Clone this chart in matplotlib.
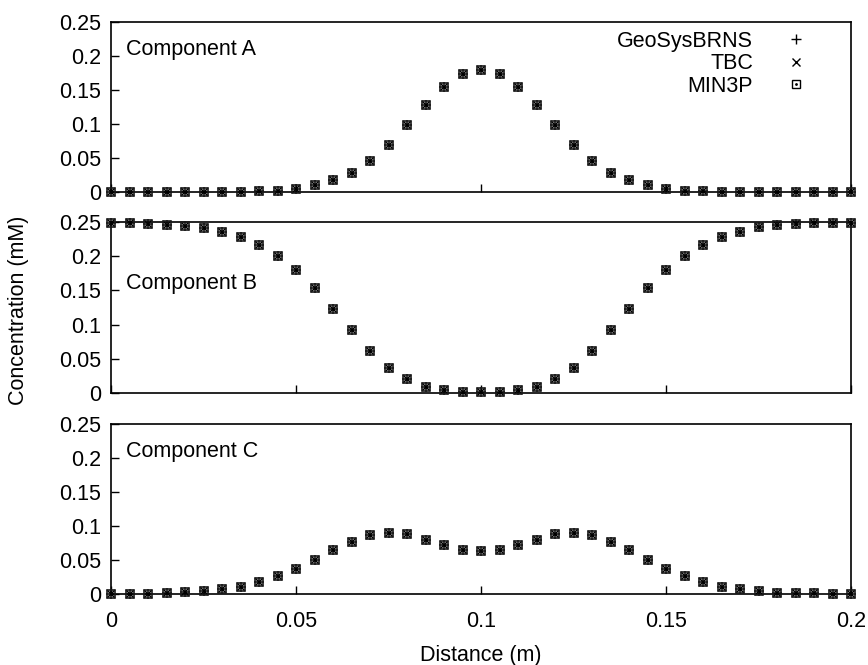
import matplotlib
matplotlib.use('Agg')
import matplotlib.pyplot as plt
from matplotlib.legend_handler import HandlerTuple

plt.rcParams['font.family'] = ['Liberation Sans', 'DejaVu Sans']
plt.rcParams['font.size'] = 15.5

# distance (m), 41 nodes
distancia = [i * 0.005 for i in range(41)]

# componente A
comp_a = [0, 0, 0, 0, 0, 0, 0, 0, 0.001, 0.002,
          0.005, 0.010, 0.017, 0.028, 0.045, 0.069, 0.098, 0.128, 0.155, 0.174,
          0.180,
          0.174, 0.155, 0.128, 0.098, 0.069, 0.045, 0.028, 0.017, 0.010, 0.005,
          0.002, 0.001, 0, 0, 0, 0, 0, 0, 0, 0]

# componente B
comp_b = [0.249, 0.249, 0.247, 0.246, 0.244, 0.241, 0.236, 0.228, 0.217, 0.201,
          0.180, 0.153, 0.123, 0.092, 0.062, 0.037, 0.020, 0.009, 0.004, 0.0015,
          0.001,
          0.0015, 0.004, 0.009, 0.020, 0.037, 0.062, 0.092, 0.123, 0.153, 0.180,
          0.201, 0.217, 0.228, 0.236, 0.242, 0.245, 0.247, 0.248, 0.249, 0.249]

# componente C
comp_c = [0, 0, 0.0005, 0.0015, 0.003, 0.004, 0.007, 0.011, 0.0175, 0.026,
          0.0365, 0.050, 0.064, 0.077, 0.087, 0.090, 0.088, 0.080, 0.072, 0.065,
          0.063,
          0.065, 0.072, 0.080, 0.088, 0.090, 0.087, 0.077, 0.064, 0.050, 0.037,
          0.026, 0.0175, 0.011, 0.007, 0.004, 0.002, 0.0015, 0.001, 0.0005, 0.0005]

componentes = ['Component A', 'Component B', 'Component C']
dados = [comp_a, comp_b, comp_c]
modelos = ['GeoSysBRNS', 'TBC', 'MIN3P']

yticks = [0, 0.05, 0.1, 0.15, 0.2, 0.25]
xticks = [0, 0.05, 0.1, 0.15, 0.2]

fig = plt.figure(figsize=(8.68, 6.65), dpi=100)

# posicoes dos paineis em pixels (topo, base)
paineis = [(22, 192), (222, 393), (424, 594)]
esq, dir_ = 111 / 868, 851 / 868

eixos = []
for (topo, base) in paineis:
    b = 1 - base / 665
    h = (base - topo) / 665
    eixos.append(fig.add_axes([esq, b, dir_ - esq, h]))

for k, ax in enumerate(eixos):
    y = dados[k]
    ax.plot(distancia, y, ls='none', marker='+', ms=7.5, mew=1.1, color='black',
            clip_on=False, zorder=3)
    ax.plot(distancia, y, ls='none', marker='x', ms=6, mew=1.1, color='black',
            clip_on=False, zorder=3)
    ax.plot(distancia, y, ls='none', marker='s', ms=6, mew=1.2, mfc='none',
            color='#1a1a1a', clip_on=False, zorder=3)
    ax.plot(distancia, y, ls='none', marker='.', ms=2, color='black',
            clip_on=False, zorder=3)

    ax.set_xlim(0, 0.2)
    ax.set_ylim(0, 0.25)
    ax.set_yticks(yticks)
    ax.set_yticklabels(['0', '0.05', '0.1', '0.15', '0.2', '0.25'])
    ax.set_xticks(xticks)
    ax.tick_params(direction='in', length=6, width=1, top=False, right=False,
                   pad=7)
    for s in ax.spines.values():
        s.set_linewidth(1.2)
    ax.text(0.02, 0.84 if k != 1 else 0.64, componentes[k], transform=ax.transAxes,
            ha='left', va='center')
    if k < 2:
        ax.set_xticklabels([])
    else:
        ax.set_xticklabels(['0', '0.05', '0.1', '0.15', '0.2'])
        ax.tick_params(axis='x', pad=12)
        ax.set_xlabel('Distance (m)', labelpad=9.5)

# legenda (somente simbolos)
ax = eixos[0]
h1, = ax.plot([], [], ls='none', marker='+', ms=7, mew=1.0, color='black')
h2, = ax.plot([], [], ls='none', marker='x', ms=5.5, mew=1.0, color='black')
h3a, = ax.plot([], [], ls='none', marker='s', ms=5.5, mew=1.0, mfc='none', color='black')
h3b, = ax.plot([], [], ls='none', marker='.', ms=2, color='black')
ax.legend([h1, h2, (h3a, h3b)], modelos, loc='upper right',
          bbox_to_anchor=(0.9405, 0.947), frameon=False, markerfirst=False,
          handlelength=1.0, handletextpad=1.5, borderpad=0, borderaxespad=0,
          labelspacing=0.06, handler_map={tuple: HandlerTuple(ndivide=1)})

fig.text(0.021, 1 - 310 / 665, 'Concentration (mM)', rotation=90,
         ha='center', va='center')

plt.savefig('out.png', dpi=100)
